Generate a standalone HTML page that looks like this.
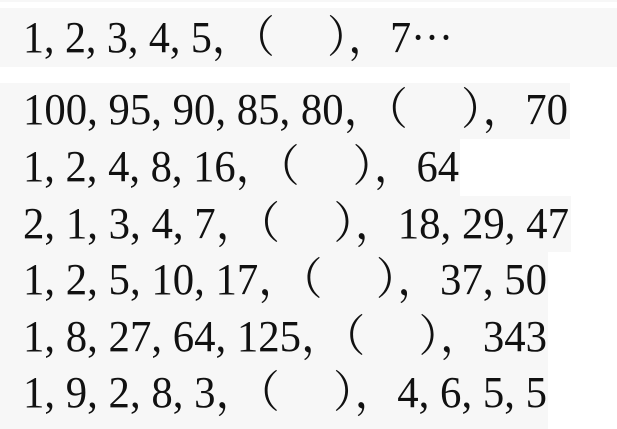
<!DOCTYPE html>
<html><head><meta charset="utf-8">
<style>
html,body{margin:0;padding:0;background:#fff;width:617px;height:429px;overflow:hidden;position:relative;}
.box{position:absolute;left:0;background:#f7f7f7;}
.t{position:absolute;left:23px;font-family:"Liberation Serif","Noto Serif CJK SC",serif;font-size:44px;color:#111;white-space:pre;transform-origin:0 0;line-height:1;}
</style></head><body>
<div class="box" style="top:0;height:2px;width:617px"></div>
<div class="box" style="top:8px;height:59px;width:617px"></div>
<div class="box" style="top:83px;height:56px;width:570px"></div>
<div class="box" style="top:139px;height:57px;width:460px"></div>
<div class="box" style="top:196px;height:56px;width:571px"></div>
<div class="box" style="top:252px;height:177px;width:548px"></div>

<div class="t" data-w="430" data-b="55">1, 2, 3, 4, 5，（　 ），7···</div>
<div class="t" data-w="545" data-b="127">100, 95, 90, 85, 80，（　 ），70</div>
<div class="t" data-w="436" data-b="184">1, 2, 4, 8, 16，（　 ），64</div>
<div class="t" data-w="546" data-b="241">2, 1, 3, 4, 7，（　 ），18, 29, 47</div>
<div class="t" data-w="524" data-b="297">1, 2, 5, 10, 17，（　 ），37, 50</div>
<div class="t" data-w="524" data-b="354">1, 8, 27, 64, 125，（　 ），343</div>
<div class="t" data-w="524" data-b="410">1, 9, 2, 8, 3，（　 ），4, 6, 5, 5</div>
<script>
document.querySelectorAll('.t').forEach(function(el){
  var fs=44;
  var w=el.getBoundingClientRect().width;
  var target=+el.getAttribute('data-w');
  el.style.transform='scaleX('+(target/w)+')';
  el.style.top=(+el.getAttribute('data-b')-fs*0.88)+'px';
});
</script>
</body></html>
